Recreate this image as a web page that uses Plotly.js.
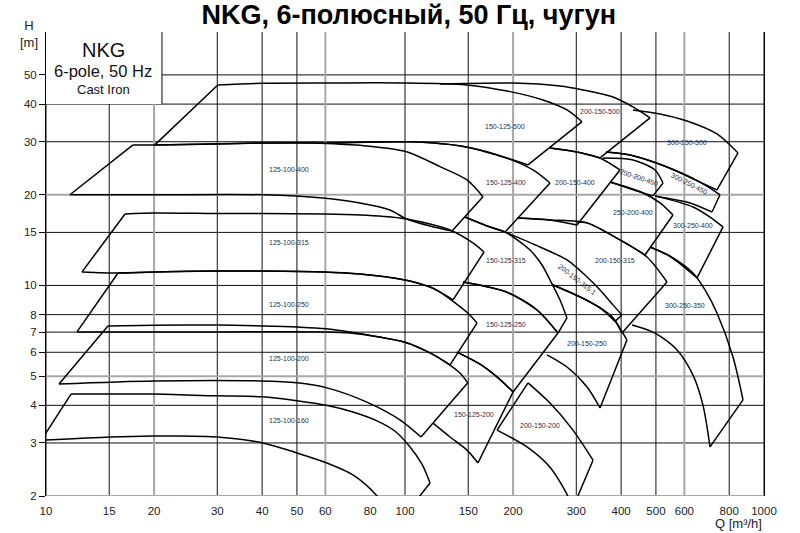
<!DOCTYPE html>
<html><head><meta charset="utf-8">
<script src="https://cdn.plot.ly/plotly-3.0.1.min.js"></script>
<style>body{margin:0;background:#fff}#chart{width:800px;height:533px}</style>
</head><body><div id="chart"></div>
<script>
const FONT = 'Liberation Sans, Arial, sans-serif';

// axis ticks
const xTickVals = [10,15,20,30,40,50,60,80,100,150,200,300,400,500,600,800,1000];
const yTickVals = [2,3,4,5,6,7,8,10,15,20,30,40,50];
const xBlackLines = [10,15,30,40,50,100,150,300,400,500,800,1000];
const xGreyLines = [20,60,200,600];
const yBlackLines = [3,4,6,7,8,10,15,30,40,50];
const yGreyLines = [2,5,20];

// pump areas: top curve (max impeller) and bottom curve (min impeller), left to right
const q125_100_160_top = [11.74,15,19.9,30,40.2,50,60.3,71.6,83.6,93.8,103.3,111.5,117.4];
const h125_100_160_top = [4.36,4.36,4.36,4.30,4.27,4.14,4.0,3.80,3.55,3.28,2.91,2.55,2.21];
const q125_100_160_bot = [9.7,15.1,19.9,22.6,30,40.2,50,60.6,71.6,83.6,95];
const h125_100_160_bot = [3.06,3.14,3.165,3.165,3.14,3.0,2.78,2.575,2.35,2.0,1.6];

const q125_100_200_top = [14.88,20.1,30,40.2,50,60.3,84.8,100,117.4,130.9,142.2,149.6];
const h125_100_200_top = [7.34,7.37,7.39,7.34,7.28,7.18,6.74,6.48,5.97,5.52,5.12,4.75];
const q125_100_200_bot = [10.87,19.9,39.5,50,60.6,78.3,96.8,110.8];
const h125_100_200_bot = [4.71,4.82,4.82,4.75,4.57,4.10,3.58,3.14];

const q125_100_250_top = [15.87,20.1,30,40.2,59.1,74.9,96.8,117.4,125.2,149.6,158.7];
const h125_100_250_top = [11.0,11.09,11.17,11.17,11.09,10.92,10.51,9.88,9.51,8.10,7.50];
const q125_100_250_bot = [12.2,30,60.3,70.3,84.8,100,117.4,133.5];
const h125_100_250_bot = [7.01,7.01,7.01,6.95,6.74,6.48,5.97,5.45];

const q125_100_315_top = [16.6,20.1,30,40.2,59.1,74.9,96.8,117.4,133.5,154.6,166];
const h125_100_315_top = [17.27,17.4,17.33,17.33,17.27,17.14,16.75,16.0,15.28,13.84,12.91];
const q125_100_315_bot = [12.6,15.87,20.1,30,59.1,74.9,100,117.4,125.2,136.1];
const h125_100_315_bot = [11.09,11.0,11.09,11.17,11.09,10.92,10.43,9.88,9.51,8.95];

const q125_100_400_top = [17.47,20.1,40.2,51,60.7,78.3,101,125.2,148.8,164.9];
const h125_100_400_top = [29.28,29.28,29.72,29.77,29.6,29.05,27.8,24.8,22.4,19.71];
const q125_100_400_bot = [11.66,20.1,40.2,59.1,74.9,90.8,101,117.4,135.2];
const h125_100_400_bot = [20,20,20,19.52,18.79,17.81,16.62,15.76,15.17];

const q150_125_500_top = [30.1,40.2,61.8,96.8,148,196.1,242.3,282.6,311.2];
const h150_125_500_top = [46.3,46.9,47.0,47.0,46.3,44.0,41.28,38.24,34.96];
const q150_125_500_bot = [20.1,30.1,40.2,60.7,103.3,148,191.9,220.1];
const h150_125_500_bot = [29.28,29.5,29.72,29.72,29.97,28.83,26.5,25.12];

const q150_125_400_top = [60.7,103.3,148,191.9,227.3,253.5];
const h150_125_400_top = [29.72,29.97,28.83,26.5,24.18,21.89];
const q150_125_400_bot = [146.9,169.2,190];
const h150_125_400_bot = [16.87,15.76,15.05];

const q150_125_315_top = [146.9,169.2,190,222.9,240.8,253.5,270.3,282.6];
const h150_125_315_top = [16.87,15.76,15.05,13.11,11.69,10.43,8.95,7.80];
const q150_125_315_bot = [145.1,191.9,233.2,266.8];
const h150_125_315_bot = [10.27,9.51,8.29,6.95];

const q150_125_250_top = [145.1,191.9,233.2,266.8];
const h150_125_250_top = [10.27,9.51,8.29,6.95];
const q150_125_250_bot = [139.6,161.8,180.4,200];
const h150_125_250_bot = [6.01,5.48,4.97,4.43];

const q150_125_200_top = [139.6,161.8,180.4,200];
const h150_125_200_top = [6.01,5.48,4.97,4.43];
const q150_125_200_bot = [119.7,133.5,148.8,159.7];
const h150_125_200_bot = [3.49,3.14,2.84,2.575];

const q200_150_200_top = [220.1,253.5,293.7,334];
const h200_150_200_top = [4.75,4.07,3.31,2.63];
const q200_150_200_bot = [180.4,218.7,253.5,284.6,292];
const h200_150_200_bot = [3.31,2.91,2.49,1.99,1.8];

const q200_150_250_top = [258.4,307.3,349.4,379.6,415.1];
const h200_150_250_top = [10.03,9.16,8.42,7.80,6.59];
const q200_150_250_bot = [248.6,282.6,321.4,349.4];
const h200_150_250_bot = [5.88,5.36,4.60,3.92];

const q200_150_315_top = [205.1,253.5,321.4,397,472.2,536.9];
const h200_150_315_top = [16.75,16.5,16.13,14.16,12.43,10.27];
const q200_150_315_bot = [258.4,307.3,349.4,379.6,402.1];
const h200_150_315_bot = [10.03,9.16,8.42,7.80,6.95];

const q200_150_3151_top = [190,237.7,282.6,321.4,349.4,379.6,402.1];
const h200_150_3151_top = [15.05,13.42,12.15,10.67,9.66,8.62,7.98];
const q200_150_3151_bot = [307.3,349.4,384.5];
const h200_150_3151_bot = [9.16,8.42,7.6];

const q200_150_400_top = [253.5,301.4,349.4,397];
const h200_150_400_top = [28.6,27.75,26.5,24.18];
const q200_150_400_bot = [205.1,253.5,301.4];
const h200_150_400_bot = [16.75,16.5,15.88];

const q200_150_500_top = [125.2,200,270.3,313.2,379.6,431.5,481.4];
const h200_150_500_top = [46.67,47.0,45.95,44.57,42.24,39.13,36.0];
const q200_150_500_bot = [253.5,301.4,349.4];
const h200_150_500_bot = [28.6,27.75,26.5];

const q300_250_500_top = [431.5,513.3,610.3,739.6,846.4];
const h300_250_500_top = [38.24,37.1,35.16,31.84,27.54];
const q300_250_500_bot = [363,423.6,536.9,663.5,739.6];
const h300_250_500_bot = [27.75,27.12,24.74,22.04,20.75];

const q300_250_450_top = [363,423.6,536.9,663.5,754.1];
const h300_250_450_top = [27.75,27.12,24.74,22.04,20.0];
const q300_250_450_bot = [497.1,513.3,622.2,716.5];
const h300_250_450_bot = [19.83,19.66,18.79,17.53];

const q250_200_450_top = [356,431.5,497.1,523.3];
const h250_200_450_top = [26.5,26.1,24.18,21.89];
const q250_200_450_bot = [372.4,460.3,490.7];
const h250_200_450_bot = [22.04,20.28,19.83];

const q250_200_400_top = [372.4,460.3,513.3,557.8];
const h250_200_400_top = [22.04,20.28,18.79,17.13];
const q250_200_400_bot = [301.4,321.4,397,466.2];
const h250_200_400_bot = [16.25,16.13,14.16,12.62];

const q300_250_400_top = [497.1,634.2,707.4,768.9];
const h300_250_400_top = [19.83,18.22,16.87,15.64];
const q300_250_400_bot = [481.4,547.2,650.9];
const h300_250_400_bot = [13.42,12.5,10.59];

const q300_250_350_top = [481.4,547.2,634.2,685.1,739.6,819.7,874.1];
const h300_250_350_top = [13.42,12.5,11.0,9.66,8.10,5.79,4.17];
const q300_250_350_bot = [428.9,497.1,572.5,634.2,676.3,707.4];
const h300_250_350_bot = [7.39,6.95,6.11,5.04,4.0,2.91];

// labels
const labelText  = ['125-100-160','125-100-200','125-100-250','125-100-315','125-100-400','150-125-500','150-125-400','150-125-315','150-125-250','150-125-200','200-150-200','200-150-250','200-150-315','200-150-315.1','200-150-400','200-150-500','250-200-400','250-200-450','300-250-400','300-250-450','300-250-500','300-250-350'];
const labelQ     = [47.4,47.4,47.4,47.4,47.4,190,191,191,191,155.7,237.7,321.4,384.5,301.4,297.5,349.4,431.5,448.6,634.2,618.2,610.3,602.6];
const labelH     = [3.55,5.74,8.62,13.91,24.18,33.59,21.89,12.06,7.44,3.72,3.42,6.44,12.06,10.43,21.89,37.9,17.4,22.74,15.76,21.73,29.72,8.55];
const labelAngle = [0,0,0,0,0,0,0,0,0,0,0,0,0,38,0,0,0,19,0,27,0,0];

const pumps = [
  {tq:q125_100_160_top,th:h125_100_160_top,bq:q125_100_160_bot,bh:h125_100_160_bot,left:true},
  {tq:q125_100_200_top,th:h125_100_200_top,bq:q125_100_200_bot,bh:h125_100_200_bot,left:true},
  {tq:q125_100_250_top,th:h125_100_250_top,bq:q125_100_250_bot,bh:h125_100_250_bot,left:true},
  {tq:q125_100_315_top,th:h125_100_315_top,bq:q125_100_315_bot,bh:h125_100_315_bot,left:true},
  {tq:q125_100_400_top,th:h125_100_400_top,bq:q125_100_400_bot,bh:h125_100_400_bot,left:true},
  {tq:q150_125_500_top,th:h150_125_500_top,bq:q150_125_500_bot,bh:h150_125_500_bot,left:true},
  {tq:q150_125_400_top,th:h150_125_400_top,bq:q150_125_400_bot,bh:h150_125_400_bot,left:false},
  {tq:q150_125_315_top,th:h150_125_315_top,bq:q150_125_315_bot,bh:h150_125_315_bot,left:false},
  {tq:q150_125_250_top,th:h150_125_250_top,bq:q150_125_250_bot,bh:h150_125_250_bot,left:false},
  {tq:q150_125_200_top,th:h150_125_200_top,bq:q150_125_200_bot,bh:h150_125_200_bot,left:false},
  {tq:q200_150_200_top,th:h200_150_200_top,bq:q200_150_200_bot,bh:h200_150_200_bot,left:true},
  {tq:q200_150_250_top,th:h200_150_250_top,bq:q200_150_250_bot,bh:h200_150_250_bot,left:false},
  {tq:q200_150_315_top,th:h200_150_315_top,bq:q200_150_315_bot,bh:h200_150_315_bot,left:false},
  {tq:q200_150_3151_top,th:h200_150_3151_top,bq:q200_150_3151_bot,bh:h200_150_3151_bot,left:false},
  {tq:q200_150_400_top,th:h200_150_400_top,bq:q200_150_400_bot,bh:h200_150_400_bot,left:false},
  {tq:q200_150_500_top,th:h200_150_500_top,bq:q200_150_500_bot,bh:h200_150_500_bot,left:false},
  {tq:q300_250_500_top,th:h300_250_500_top,bq:q300_250_500_bot,bh:h300_250_500_bot,left:false},
  {tq:q300_250_450_top,th:h300_250_450_top,bq:q300_250_450_bot,bh:h300_250_450_bot,left:false},
  {tq:q250_200_450_top,th:h250_200_450_top,bq:q250_200_450_bot,bh:h250_200_450_bot,left:false},
  {tq:q250_200_400_top,th:h250_200_400_top,bq:q250_200_400_bot,bh:h250_200_400_bot,left:false},
  {tq:q300_250_400_top,th:h300_250_400_top,bq:q300_250_400_bot,bh:h300_250_400_bot,left:false},
  {tq:q300_250_350_top,th:h300_250_350_top,bq:q300_250_350_bot,bh:h300_250_350_bot,left:false}
];

const LINE = {color:'#000', width:1.5};
const traces = [];
function add(x, y, spline) {
  traces.push({type:'scatter', mode:'lines', x:x, y:y, hoverinfo:'skip', showlegend:false,
    line: Object.assign({}, LINE, spline ? {shape:'spline', smoothing:0.8} : {shape:'linear'})});
}
pumps.forEach(p => {
  add(p.tq, p.th, true);
  add(p.bq, p.bh, true);
  add([p.tq[p.tq.length-1], p.bq[p.bq.length-1]], [p.th[p.th.length-1], p.bh[p.bh.length-1]], false);
  if (p.left) add([p.bq[0], p.tq[0]], [p.bh[0], p.th[0]], false);
});

// grid drawn as shapes below the traces (black + grey), then the info box over them
const shapes = [];
xBlackLines.forEach(q => shapes.push({type:'line', layer:'below', xref:'x', yref:'paper', x0:q, x1:q, y0:0, y1:1, line:{color:'#111', width:1}}));
yBlackLines.forEach(h => shapes.push({type:'line', layer:'below', xref:'paper', yref:'y', x0:0, x1:1, y0:h, y1:h, line:{color:'#111', width:1}}));
xGreyLines.forEach(q => shapes.push({type:'line', layer:'below', xref:'x', yref:'paper', x0:q, x1:q, y0:0, y1:1, line:{color:'#a8a8a8', width:2}}));
yGreyLines.forEach(h => shapes.push({type:'line', layer:'below', xref:'paper', yref:'y', x0:0, x1:1, y0:h, y1:h, line:{color:'#a8a8a8', width:2}}));
shapes.push({type:'rect', layer:'below', xref:'x', yref:'paper', x0:10, x1:21.04, y0:0.8446, y1:1.01, fillcolor:'#fff', line:{width:0}});
shapes.push({type:'line', layer:'below', xref:'x', yref:'paper', x0:21.04, x1:21.04, y0:0.8446, y1:1, line:{color:'#000', width:1}});

const annotations = labelText.map((t,i) => ({
  text:t, x:Math.log10(labelQ[i]), y:Math.log10(labelH[i]), xref:'x', yref:'y', showarrow:false,
  textangle:labelAngle[i], font:{size:7, color:'#2e2e44', family:FONT}
}));
annotations.push(
  {text:'NKG', xref:'paper', yref:'paper', x:0.0794, y:0.961, xanchor:'center', yanchor:'middle', showarrow:false, font:{size:20, color:'#111', family:FONT}},
  {text:'6-pole, 50 Hz', xref:'paper', yref:'paper', x:0.0794, y:0.916, xanchor:'center', yanchor:'middle', showarrow:false, font:{size:16.5, color:'#111', family:FONT}},
  {text:'Cast Iron', xref:'paper', yref:'paper', x:0.0794, y:0.877, xanchor:'center', yanchor:'middle', showarrow:false, font:{size:13, color:'#111', family:FONT}},
  {text:'H<br>[m]', xref:'paper', yref:'paper', x:-0.024, y:0.996, xanchor:'center', yanchor:'middle', showarrow:false, font:{size:13, color:'#222', family:FONT}},
  {text:'Q [m³/h]', xref:'paper', yref:'paper', x:1.0, y:-0.06, xanchor:'right', yanchor:'middle', showarrow:false, font:{size:13, color:'#222', family:FONT}}
);

const layout = {
  width:800, height:533,
  margin:{l:46, r:36, t:32, b:37, pad:0},
  paper_bgcolor:'#fff', plot_bgcolor:'rgba(0,0,0,0)',
  showlegend:false,
  font:{family:FONT, color:'#222', size:12},
  title:{text:'<b>NKG, 6-полюсный, 50 Гц, чугун</b>', xref:'container', yref:'container', x:0.511, xanchor:'center', y:0.972, yanchor:'middle', font:{size:27, color:'#000', family:FONT}},
  xaxis:{type:'log', range:[1,3], tickmode:'array', tickvals:xTickVals, ticktext:xTickVals.map(String),
    showgrid:false, zeroline:false, showline:false,
    ticks:'outside', ticklen:4, tickcolor:'rgba(0,0,0,0)', tickfont:{size:11.5, color:'#222'}},
  yaxis:{type:'log', range:[Math.log10(2), Math.log10(69.4)], tickmode:'array', tickvals:yTickVals, ticktext:yTickVals.map(String),
    showgrid:false, zeroline:false, showline:true, linecolor:'#000', linewidth:1, mirror:true,
    ticks:'outside', ticklen:6, tickcolor:'#000', tickfont:{size:11.5, color:'#222'}},
  shapes:shapes,
  annotations:annotations
};

Plotly.newPlot('chart', traces, layout, {staticPlot:true, displayModeBar:false});
</script>
</body></html>
